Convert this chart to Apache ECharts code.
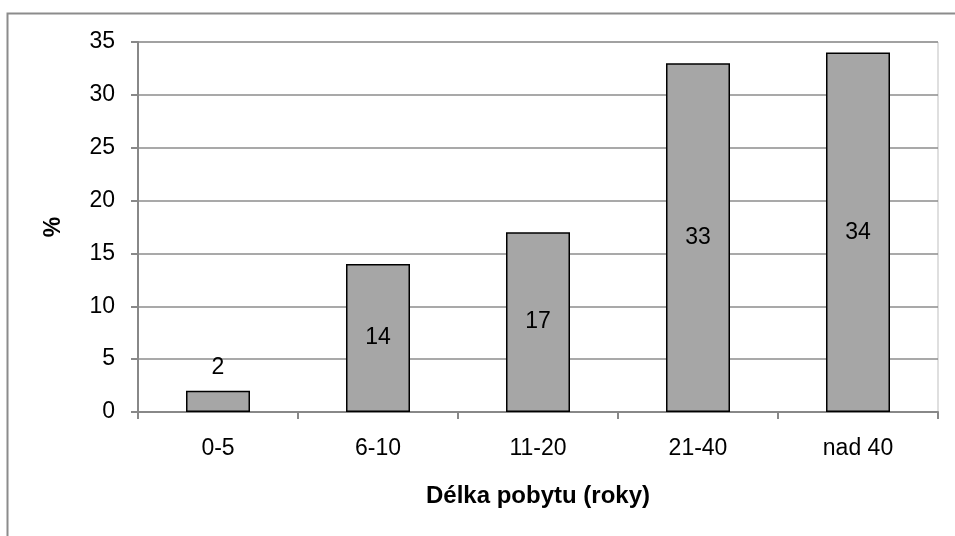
<!DOCTYPE html>
<html>
<head>
<meta charset="utf-8">
<script src="https://cdn.jsdelivr.net/npm/echarts@6/dist/echarts.min.js"></script>
<style>
  html, body { margin: 0; padding: 0; background: #fff; }
  #chart { width: 955px; height: 536px; }
</style>
</head>
<body>
<div id="chart"></div>
<script>
const categories = ['0-5', '6-10', '11-20', '21-40', 'nad 40']
const values = [2, 14, 17, 33, 34]
const yTicks = { min: 0, max: 35, interval: 5 }

const font = 'Arial, "Liberation Sans", sans-serif'
const myChart = echarts.init(document.getElementById('chart'))

myChart.setOption({
  animation: false,
  // outer chart frame
  graphic: [{
    type: 'rect',
    shape: { x: 7.5, y: 13.5, width: 1000, height: 600 },
    style: { fill: 'none', stroke: '#8c8c8c', lineWidth: 2 },
    silent: true
  }],
  grid: {
    left: 138, right: 17, top: 42, bottom: 124,
    show: true,
    borderColor: '#bfbfbf',
    borderWidth: 1
  },
  xAxis: {
    type: 'category',
    data: categories,
    name: 'Délka pobytu (roky)',
    nameLocation: 'middle',
    nameGap: 72,
    nameTextStyle: { fontFamily: font, fontSize: 24, fontWeight: 'bold', color: '#000' },
    axisLine: { lineStyle: { color: '#888', width: 2 } },
    axisTick: { show: true, length: 7, alignWithLabel: false, lineStyle: { color: '#888', width: 2 } },
    axisLabel: { fontFamily: font, fontSize: 23, color: '#000', margin: 25 }
  },
  yAxis: {
    type: 'value',
    min: yTicks.min,
    max: yTicks.max,
    interval: yTicks.interval,
    name: '%',
    nameLocation: 'middle',
    nameGap: 73,
    nameRotate: 90,
    nameTextStyle: { fontFamily: font, fontSize: 23, fontWeight: 'bold', color: '#000' },
    axisLine: { show: true, lineStyle: { color: '#888', width: 2 } },
    axisTick: { show: true, length: 7, lineStyle: { color: '#888', width: 2 } },
    axisLabel: { fontFamily: font, fontSize: 23, color: '#000', margin: 23 },
    splitLine: { lineStyle: { color: '#8c8c8c', width: 1.5 } }
  },
  series: [{
    type: 'bar',
    barWidth: 64,
    data: values.map((v, i) => i === 0
      ? { value: v, label: { position: 'top', distance: 12 } }
      : v),
    itemStyle: { color: '#a6a6a6', borderColor: '#000', borderWidth: 1.5 },
    label: {
      show: true,
      position: 'inside',
      fontFamily: font,
      fontSize: 23,
      color: '#000'
    }
  }]
})
</script>
</body>
</html>
